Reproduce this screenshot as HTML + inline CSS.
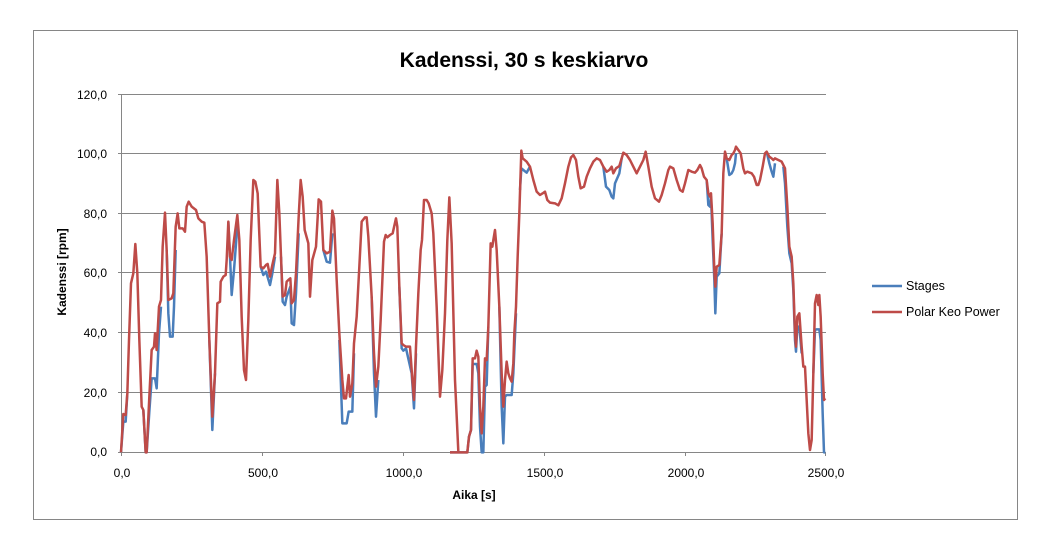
<!DOCTYPE html>
<html><head><meta charset="utf-8"><style>
body{margin:0;background:#fff}
svg text{font-family:"Liberation Sans",sans-serif}
</style></head><body>
<svg width="1050" height="550" viewBox="0 0 1050 550" xmlns="http://www.w3.org/2000/svg">
<rect x="0" y="0" width="1050" height="550" fill="#fff"/>
<rect x="33.5" y="30.5" width="984" height="489" fill="none" stroke="#868686" stroke-width="1"/>
<text x="524" y="67" font-size="21" font-weight="bold" text-anchor="middle" fill="#000">Kadenssi, 30 s keskiarvo</text>
<g stroke="#868686" stroke-width="1">
<line x1="122" y1="94.5" x2="826" y2="94.5"/>
<line x1="122" y1="153.5" x2="826" y2="153.5"/>
<line x1="122" y1="213.5" x2="826" y2="213.5"/>
<line x1="122" y1="272.5" x2="826" y2="272.5"/>
<line x1="122" y1="332.5" x2="826" y2="332.5"/>
<line x1="122" y1="392.5" x2="826" y2="392.5"/>
<line x1="122" y1="452.5" x2="826" y2="452.5"/>
<line x1="121.5" y1="94" x2="121.5" y2="456"/>
<line x1="118" y1="94.5" x2="122" y2="94.5"/><line x1="118" y1="153.5" x2="122" y2="153.5"/><line x1="118" y1="213.5" x2="122" y2="213.5"/><line x1="118" y1="272.5" x2="122" y2="272.5"/><line x1="118" y1="332.5" x2="122" y2="332.5"/><line x1="118" y1="392.5" x2="122" y2="392.5"/><line x1="118" y1="452.5" x2="122" y2="452.5"/>
<line x1="262.5" y1="452" x2="262.5" y2="456"/><line x1="403.5" y1="452" x2="403.5" y2="456"/><line x1="544.5" y1="452" x2="544.5" y2="456"/><line x1="685.5" y1="452" x2="685.5" y2="456"/><line x1="825.5" y1="452" x2="825.5" y2="456"/>
</g>
<g font-size="12" fill="#000" text-anchor="end">
<text x="107" y="99">120,0</text><text x="107" y="158">100,0</text><text x="107" y="218">80,0</text><text x="107" y="277">60,0</text><text x="107" y="337">40,0</text><text x="107" y="397">20,0</text><text x="107" y="456">0,0</text>
</g>
<g font-size="12" fill="#000" text-anchor="middle">
<text x="122" y="477">0,0</text><text x="263" y="477">500,0</text><text x="404" y="477">1000,0</text><text x="545" y="477">1500,0</text><text x="686" y="477">2000,0</text><text x="826" y="477">2500,0</text>
</g>
<text x="474" y="499" font-size="12" font-weight="bold" text-anchor="middle">Aika [s]</text>
<text transform="translate(66,272) rotate(-90)" font-size="12" font-weight="bold" text-anchor="middle">Kadenssi [rpm]</text>
<line x1="872" y1="286" x2="902" y2="286" stroke="#4a7ebb" stroke-width="2.5"/>
<text x="906" y="290" font-size="12.5">Stages</text>
<line x1="872" y1="312" x2="902" y2="312" stroke="#be4b48" stroke-width="2.5"/>
<text x="906" y="316" font-size="12.5">Polar Keo Power</text>

<g fill="none" stroke-linejoin="round" stroke-width="2.5">
<g transform="translate(110,140) scale(0.33333)">
<g stroke="#4a7ebb" vector-effect="non-scaling-stroke">
<polyline vector-effect="non-scaling-stroke" points="33,937 40,845 47,845 52,760"/>
<polyline vector-effect="non-scaling-stroke" points="100,810 107,937 110,937 118,815 125,715 135,715 140,745 147,580 153,500"/>
<polyline vector-effect="non-scaling-stroke" points="170,330 175,520 180,590 188,590 192,500 197,330"/>
<polyline vector-effect="non-scaling-stroke" points="298,600 307,870 315,700"/>
<polyline vector-effect="non-scaling-stroke" points="355,245 360,350 365,465 372,390 382,260"/>
<polyline vector-effect="non-scaling-stroke" points="452,380 460,405 468,395 480,435 487,400 495,350"/>
<polyline vector-effect="non-scaling-stroke" points="513,350 518,485 525,495 530,470 541,440 545,550 552,555 558,460 566,280"/>
<polyline vector-effect="non-scaling-stroke" points="640,330 650,365 660,368 667,280"/>
<polyline vector-effect="non-scaling-stroke" points="688,600 697,850 710,850 716,815 727,815 732,640"/>
<polyline vector-effect="non-scaling-stroke" points="785,470 792,700 798,830 805,720"/>
<polyline vector-effect="non-scaling-stroke" points="868,440 875,625 880,632 888,625 905,700 912,805 918,640"/>
</g>
<polyline stroke="#be4b48" vector-effect="non-scaling-stroke" points="33,937 40,822 47,825 52,760 57,600 63,430 70,400 76,312 82,400 88,600 95,800 100,810 107,937 110,937 118,770 125,630 132,620 135,580 140,630 147,500 153,480 158,320 165,218 170,330 175,480 185,475 190,460 197,260 203,220 208,265 218,265 225,275 230,200 236,185 245,200 258,210 265,235 275,245 283,248 290,350 298,600 307,830 315,700 322,490 330,485 332,425 340,410 347,405 350,360 355,245 360,350 365,360 372,300 382,225 388,300 395,530 402,690 408,720 415,540 422,300 430,120 436,125 443,160 447,260 452,380 460,385 468,375 473,372 480,410 487,375 495,340 502,120 508,220 513,350 518,470 525,465 530,425 535,420 541,415 545,490 552,480 558,400 566,230 572,120 578,170 584,270 595,310 600,470 607,360 618,320 622,250 626,178 633,185 640,330 650,340 660,335 667,212 672,235 680,420 688,580 697,720 702,775 708,775 712,740 716,705 720,770 727,730 732,610 740,530 748,380 755,245 765,232 770,232 775,290 785,470 792,640 798,740 805,680 812,540 822,305 827,285 832,292 840,285 848,280 858,235 862,260 868,440 875,610 880,615 888,620 900,620 905,690 912,780 918,620 925,460 932,330 936,300 942,180 950,180 956,190 965,220 970,280 980,500 990,770 997,690 1005,520 1012,300 1018,172 1025,310 1035,720 1045,935 1050,937"/>
</g>
<g transform="translate(460,140) scale(0.33333)">
<g stroke="#4a7ebb">
<polyline vector-effect="non-scaling-stroke" points="-30,937 0,937 22,937 27,890 33,870 38,672 50,672 55,700 60,860 65,937 70,937 75,740 80,735 85,560"/>
<polyline vector-effect="non-scaling-stroke" points="118,500 125,800 130,910 135,770 140,765 155,765 160,700 168,520"/>
<polyline vector-effect="non-scaling-stroke" points="180,150 184,85 190,90 200,98 210,80"/>
<polyline vector-effect="non-scaling-stroke" points="430,80 438,140 448,150 455,170 460,175 465,130 478,100 485,55"/>
<polyline vector-effect="non-scaling-stroke" points="740,120 745,195 750,200 753,170 758,300 763,420 766,520 770,410 778,400 785,280"/>
<polyline vector-effect="non-scaling-stroke" points="800,55 808,105 815,100 820,90 825,70 828,40"/>
<polyline vector-effect="non-scaling-stroke" points="920,35 928,70 935,95 940,110 945,70"/>
<polyline vector-effect="non-scaling-stroke" points="970,80 975,130 982,260 988,340 995,370 1000,450 1005,600 1008,635 1012,560 1018,560 1025,640"/>
<polyline vector-effect="non-scaling-stroke" points="1060,700 1065,570 1070,568 1078,568 1082,600 1088,820 1092,937 1096,937"/>
</g>
<polyline stroke="#be4b48" vector-effect="non-scaling-stroke" points="-30,937 0,937 22,937 27,890 33,870 38,655 45,655 50,632 55,650 60,800 65,880 70,800 75,655 80,660 85,560 92,310 97,320 100,300 105,270 110,330 118,500 125,700 130,800 135,720 140,665 145,700 150,715 155,725 160,670 163,580 168,500 173,350 178,220 184,32 188,55 200,65 210,80 220,120 230,155 240,165 248,160 255,155 262,180 270,188 285,190 295,196 305,175 315,130 325,80 333,52 340,45 348,60 355,110 362,145 372,140 380,110 390,85 400,65 410,55 420,60 430,80 440,95 448,90 455,80 460,100 468,85 478,78 485,55 490,38 500,45 510,60 520,80 530,100 540,80 550,60 557,35 565,80 575,140 585,175 597,185 605,165 615,130 625,90 630,80 640,85 650,120 660,150 668,155 675,130 685,90 695,95 705,98 712,90 720,75 725,85 732,110 740,120 745,160 750,170 753,160 758,250 763,390 766,440 770,380 778,375 785,280 790,100 795,35 800,55 808,60 815,45 820,40 825,30 828,20 835,30 842,40 850,85 855,100 862,95 875,100 882,110 890,135 895,135 900,120 908,80 915,40 920,35 928,50 935,55 940,60 945,55 955,60 965,65 975,85 982,200 988,320 995,350 1000,430 1005,580 1008,620 1012,530 1018,520 1025,620 1030,680 1035,680 1040,780 1045,880 1050,930 1055,900 1060,700 1065,490 1070,465 1075,495 1078,465 1082,530 1088,700 1092,780 1096,775"/>
</g>
</g>
</svg>
</body></html>
